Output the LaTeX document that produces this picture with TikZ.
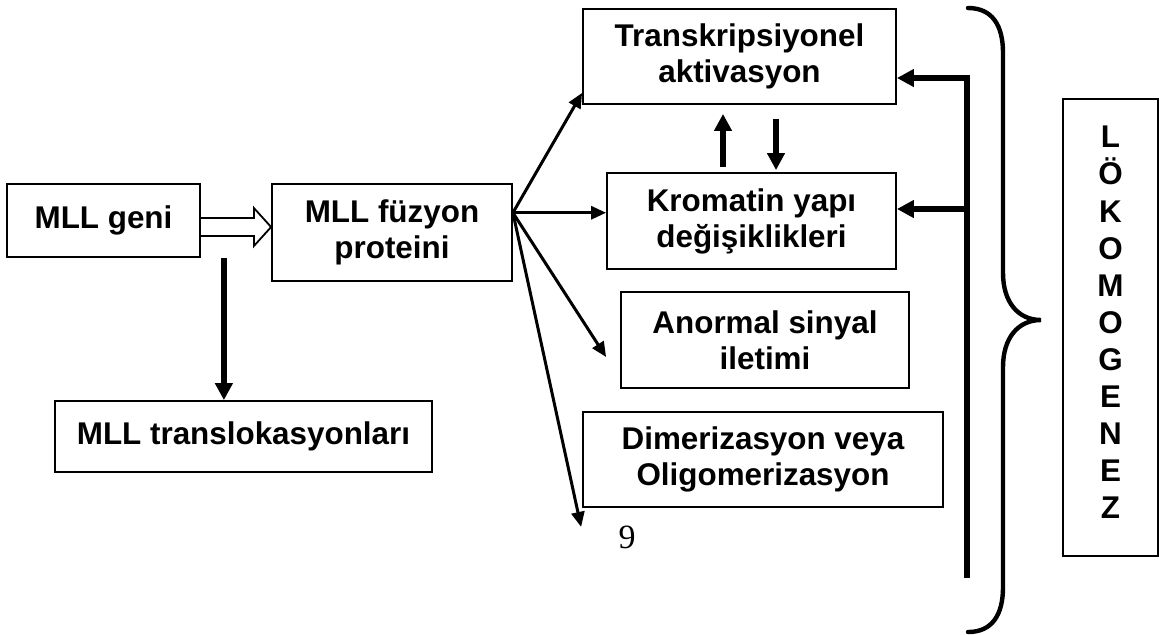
\documentclass[tikz,border=0pt]{standalone}
\usepackage{fontspec}
\setmainfont{Liberation Sans}
\newfontfamily\pagefont{Liberation Serif}
\usepackage{tikz}
\usetikzlibrary{calc}
\usetikzlibrary{arrows.meta}

\tikzset{
  box/.style={draw, line width=0.9pt, inner sep=0pt, align=center,
    font=\fontsize{15.7}{18}\selectfont\bfseries},
  fanarrow/.style={line width=1.5pt, -{Triangle[length=7.5pt,width=6.5pt]}},
  bigarrow/.style={line width=2.8pt, line join=miter, -{Triangle[length=8.5pt,width=8.5pt]}},
  hollowarrow/.style={line width=0.9pt, line join=miter},
  barline/.style={line width=2.8pt},
  bracket/.style={line width=2.2pt, line cap=round}
}

\begin{document}
\begin{tikzpicture}[x=0.5pt, y=-0.5pt]
    \useasboundingbox (0,0) rectangle (1159,634);
    % left column
    \node[box, minimum width=96.5pt, minimum height=36.5pt] (geni) at (103.5,220.5) {MLL geni};
    \node[box, minimum width=120pt, minimum height=48.5pt] (fuzyon) at (392,232.5) {MLL füzyon\\proteini};
    \node[box, minimum width=188.5pt, minimum height=35.5pt] (transloka) at (243.5,436.5) {MLL translokasyonları};
    % right column
    \node[box, minimum width=156.5pt, minimum height=47.5pt] (transk) at (739.5,56.5) {Transkripsiyonel\\aktivasyon};
    \node[box, minimum width=144.5pt, minimum height=48pt] (kromatin) at (751.5,221) {Kromatin yapı\\değişiklikleri};
    \node[box, minimum width=144pt, minimum height=48pt] (anormal) at (765,340) {Anormal sinyal\\iletimi};
    \node[box, minimum width=180pt, minimum height=47.5pt] (dimer) at (763,459.5) {Dimerizasyon veya\\Oligomerizasyon};
    \node[box, minimum width=47.5pt, minimum height=228.5pt, font=\fontsize{15.7}{18.55}\selectfont\bfseries] (lokom) at (1110.5,327.5)
        {L\\Ö\\K\\O\\M\\O\\G\\E\\N\\E\\Z\rule[-5pt]{0pt}{5pt}};
    \node[font=\pagefont\fontsize{17}{17}\selectfont] (pagenum) at (627,537) {9};

    % hollow arrow
    \coordinate (hs) at ($(geni.east)+(0,6.5)$);
    \draw[hollowarrow] ($(hs)+(0,-9)$) -- ++(53,0) -- ++(0,-10) -- (hs -| fuzyon.west)
        -- ($(hs)+(53,19)$) -- ++(0,-10) -- ($(hs)+(0,9)$);
    % down to translocations
    \coordinate (dtop) at ($(geni.south east)+(23,0)$);
    \draw[bigarrow] (dtop) -- (dtop |- transloka.north);

    % fan of arrows
    \coordinate (fan) at ($(fuzyon.north east)!0.3!(fuzyon.south east)$);
    \draw[fanarrow] (fan) -- ($(transk.south west)+(0,-12)$);
    \draw[fanarrow] (fan) -- (fan -| kromatin.west);
    \draw[fanarrow] (fan) -- ($(anormal.west)+(-14,17)$);
    \draw[fanarrow] (fan) -- ($(dimer.south west)+(-1,19)$);

    % between transcription and chromatin
    \draw[bigarrow] ($(kromatin.north)+(-28.5,-5)$) -- ($(transk.south)+(-16.5,9)$);
    \draw[bigarrow] ($(transk.south)+(36.5,14)$) -- ($(kromatin.north)+(24.5,-2)$);

    % feedback bar
    \coordinate (bartop) at (967,78);
    \coordinate (barmid) at (967,209);
    \coordinate (barbot) at (967,578);
    \draw[bigarrow] (barbot) -- (bartop) -- (bartop -| transk.east);
    \draw[bigarrow] (barmid) -- (barmid -| kromatin.east);

    % brace
    \draw[bracket] (968,8) .. controls (992,8) and (1003,25) .. (1003,53)
        -- (1003,273) .. controls (1003,302) and (1018,320) .. (1041,320)
        .. controls (1018,320) and (1003,338) .. (1003,367)
        -- (1003,587) .. controls (1003,615) and (992,632) .. (968,632);
\end{tikzpicture}
\end{document}
